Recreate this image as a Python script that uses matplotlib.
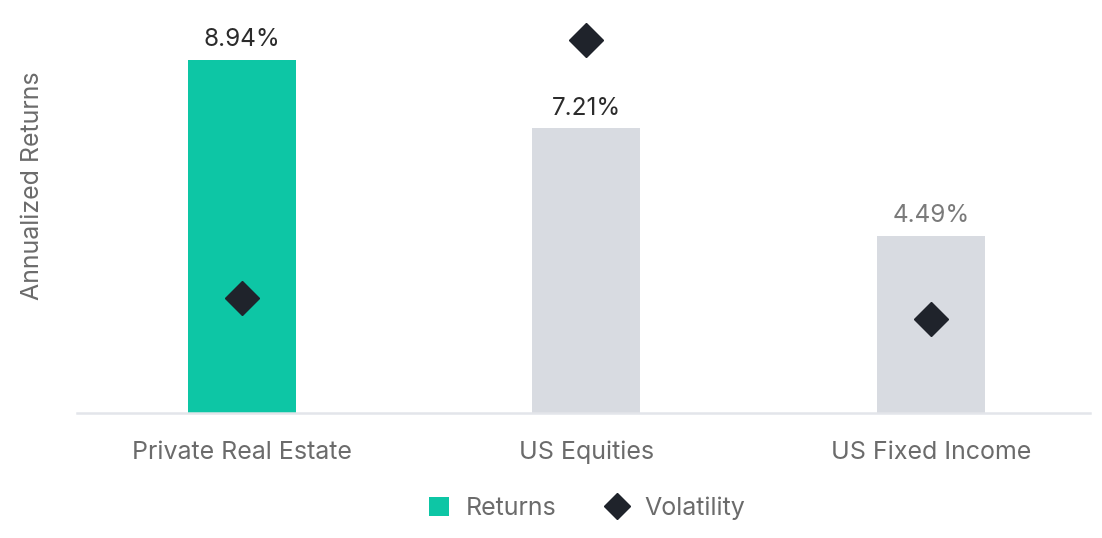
import matplotlib
matplotlib.use("Agg")
import matplotlib.pyplot as plt
from matplotlib.lines import Line2D
from matplotlib.patches import Patch

categories = ["Private Real Estate", "US Equities", "US Fixed Income"]
returns = [8.94, 7.21, 4.49]
volatility = [2.91, 9.45, 2.37]
return_labels = ["8.94%", "7.21%", "4.49%"]

bar_colors = ["#0DC6A5", "#D8DBE1", "#D8DBE1"]
label_colors = ["#2b2b2b", "#2b2b2b", "#7a7a7a"]

plt.rcParams['font.family'] = ['Inter', 'DejaVu Sans']

fig = plt.figure(figsize=(11.02, 5.38), dpi=100)
W, H = 1102, 538
ax = fig.add_axes([77 / W, 1 - 413 / H, (1090 - 77) / W, (413 - 10) / H])

x = list(range(len(categories)))
ax.bar(x, returns, width=0.313, color=bar_colors, zorder=2)
ax.plot(x, volatility, linestyle='none', marker='D', markersize=17,
        color='#1f232b', zorder=3)

for xi, v, lab, c in zip(x, returns, return_labels, label_colors):
    ax.text(xi, v + 0.22, lab, ha='center', va='bottom', fontsize=17.5, color=c)

ax.set_xlim(-0.478, 2.462)
ax.set_ylim(0, 10.21)
ax.set_xticks(x)
ax.set_xticklabels(categories, fontsize=18, color='#6b6b6b')
ax.tick_params(axis='x', length=0, pad=20)
ax.set_yticks([])
for s in ['top', 'right', 'left']:
    ax.spines[s].set_visible(False)
ax.spines['bottom'].set_color('#E3E5EA')
ax.spines['bottom'].set_linewidth(1.8)

fig.text(33 / W, 1 - 186 / H, "Annualized Returns", rotation=90, ha='center',
         va='center', fontsize=18, color='#6b6b6b')

handles = [Patch(facecolor='#0DC6A5', edgecolor='none', label='Returns'),
           Line2D([], [], linestyle='none', marker='D', markersize=13,
                  color='#1f232b', label='Volatility')]
fig.legend(handles=handles, loc='center', bbox_to_anchor=(587 / W, 1 - 508 / H),
           ncol=2, frameon=False, fontsize=18, labelcolor='#6b6b6b',
           handlelength=0.8, handleheight=0.8, columnspacing=2.0, handletextpad=0.7)

fig.savefig("out.png", dpi=100, facecolor='white')
